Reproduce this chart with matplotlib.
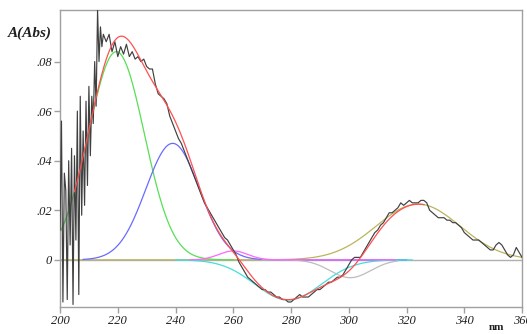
import numpy as np
import matplotlib
matplotlib.use("Agg")
import matplotlib.pyplot as plt

noisy_nm = [200.0, 200.5, 201.0, 201.5, 202.0, 202.5, 203.0, 203.5, 204.0, 204.5,
            205.0, 205.5, 206.0, 206.5, 207.0, 207.5, 208.0, 208.5, 209.0, 209.5,
            210.0, 210.5, 211.0, 211.5, 212.0, 212.5, 213.0, 213.5, 214.0, 214.5]
noisy_abs = [0.012, 0.056, -0.017, 0.035, 0.028, -0.016, 0.040, 0.006, 0.045, -0.018,
             0.042, 0.008, 0.060, -0.014, 0.066, 0.018, 0.052, 0.022, 0.064, 0.030,
             0.070, 0.042, 0.066, 0.055, 0.080, 0.062, 0.101, 0.080, 0.094, 0.086]
smooth_start = 215
smooth_abs = [
    0.091, 0.088, 0.091, 0.084, 0.088, 0.082, 0.086, 0.083, 0.087, 0.082,  # 215-224
    0.084, 0.081, 0.082, 0.080, 0.081, 0.078, 0.077, 0.077, 0.071, 0.067,  # 225-234
    0.066, 0.065, 0.063, 0.058, 0.055, 0.052, 0.049, 0.047, 0.044, 0.041,  # 235-244
    0.038, 0.035, 0.032, 0.029, 0.026, 0.023, 0.021, 0.019, 0.017, 0.015,  # 245-254
    0.013, 0.011, 0.009, 0.008, 0.006, 0.004, 0.002, -0.001, -0.003, -0.005,  # 255-264
    -0.007, -0.008, -0.009, -0.010, -0.011, -0.012, -0.012, -0.013, -0.013, -0.014,  # 265-274
    -0.015, -0.015, -0.016, -0.016, -0.017, -0.017, -0.016, -0.015, -0.014, -0.015,  # 275-284
    -0.015, -0.015, -0.014, -0.013, -0.012, -0.012, -0.011, -0.010, -0.009, -0.009,  # 285-294
    -0.008, -0.007, -0.007, -0.006, -0.004, -0.002, 0.000, 0.001, 0.001, 0.001,  # 295-304
    0.003, 0.005, 0.007, 0.009, 0.011, 0.012, 0.014, 0.015, 0.017, 0.019,  # 305-314
    0.019, 0.020, 0.021, 0.023, 0.022, 0.023, 0.024, 0.023, 0.023, 0.023,  # 315-324
    0.024, 0.024, 0.023, 0.020, 0.019, 0.018, 0.017, 0.017, 0.017, 0.016,  # 325-334
    0.016, 0.015, 0.015, 0.014, 0.013, 0.011, 0.010, 0.009, 0.008, 0.008,  # 335-344
    0.008, 0.007, 0.006, 0.005, 0.004, 0.004, 0.006, 0.007, 0.006, 0.004,  # 345-354
    0.002, 0.001, 0.002, 0.005, 0.003, 0.001,  # 355-360
]

# fitted gaussian bands: centre (nm), height, width (sigma, nm), drawn range
band_center = [219.5, 239.0, 260.0, 279.0, 300.5, 324.0]
band_height = [0.084, 0.047, 0.0036, -0.0162, -0.0072, 0.0225]
band_sigma = [9.7, 9.3, 5.0, 11.5, 7.0, 14.5]
band_start = [200, 208, 245, 240, 270, 200]
band_stop = [260, 320, 316, 322, 317, 360]
band_color = ["#55e055", "#6a6aff", "#ff66ff", "#44dede", "#bdbdbd", "#bcb45c"]
band_order = [5, 0, 1, 3, 4, 2]
sum_start, sum_stop = 205, 326

yticks = [0.0, 0.02, 0.04, 0.06, 0.08]
ytick_labels = ["0", ".02", ".04", ".06", ".08"]
xticks = [200, 220, 240, 260, 280, 300, 320, 340, 360]


def gauss(x, c, h, s):
    return h * np.exp(-((x - c) ** 2) / (2 * s * s))


fig = plt.figure(figsize=(5.27, 3.34), dpi=100)
ax = fig.add_axes([0.1139, 0.081, 0.8767, 0.889])

ax.axhline(0, color="#b0b0b0", lw=1.0, zorder=1)

for i in band_order:
    xs = np.linspace(band_start[i], band_stop[i], 300)
    ax.plot(xs, gauss(xs, band_center[i], band_height[i], band_sigma[i]),
            color=band_color[i], lw=0.9, zorder=2)

x_data = np.array(noisy_nm + list(range(smooth_start, smooth_start + len(smooth_abs))), float)
y_data = np.array(noisy_abs + smooth_abs)
ax.plot(x_data, y_data, color="#404040", lw=0.85, zorder=3)

xs = np.linspace(sum_start, sum_stop, 400)
total = sum(gauss(xs, band_center[i], band_height[i], band_sigma[i]) for i in range(len(band_center)))
ax.plot(xs, total, color="#ff5050", lw=0.9, zorder=4)

ax.set_xlim(200, 360)
ax.set_ylim(-0.019, 0.1008)
ax.set_xticks(xticks)
ax.set_yticks(yticks)
ax.set_yticklabels(ytick_labels)
for sp in ax.spines.values():
    sp.set_color("#a0a0a0")
    sp.set_linewidth(1.0)
ax.tick_params(direction="out", length=4, width=1.0, color="#a0a0a0",
               labelsize=9, pad=2)
for lab in ax.get_xticklabels() + ax.get_yticklabels():
    lab.set_fontfamily("Liberation Serif")
    lab.set_fontstyle("italic")
    lab.set_color("#202020")

fig.text(0.015, 0.89, "A(Abs)", fontfamily="Liberation Serif", fontstyle="italic",
         fontweight="bold", fontsize=11, color="#202020")
fig.text(0.928, 0.012, "nm", fontfamily="Liberation Serif",
         fontweight="bold", fontsize=8, color="#202020")

fig.savefig("out.png", dpi=100)
